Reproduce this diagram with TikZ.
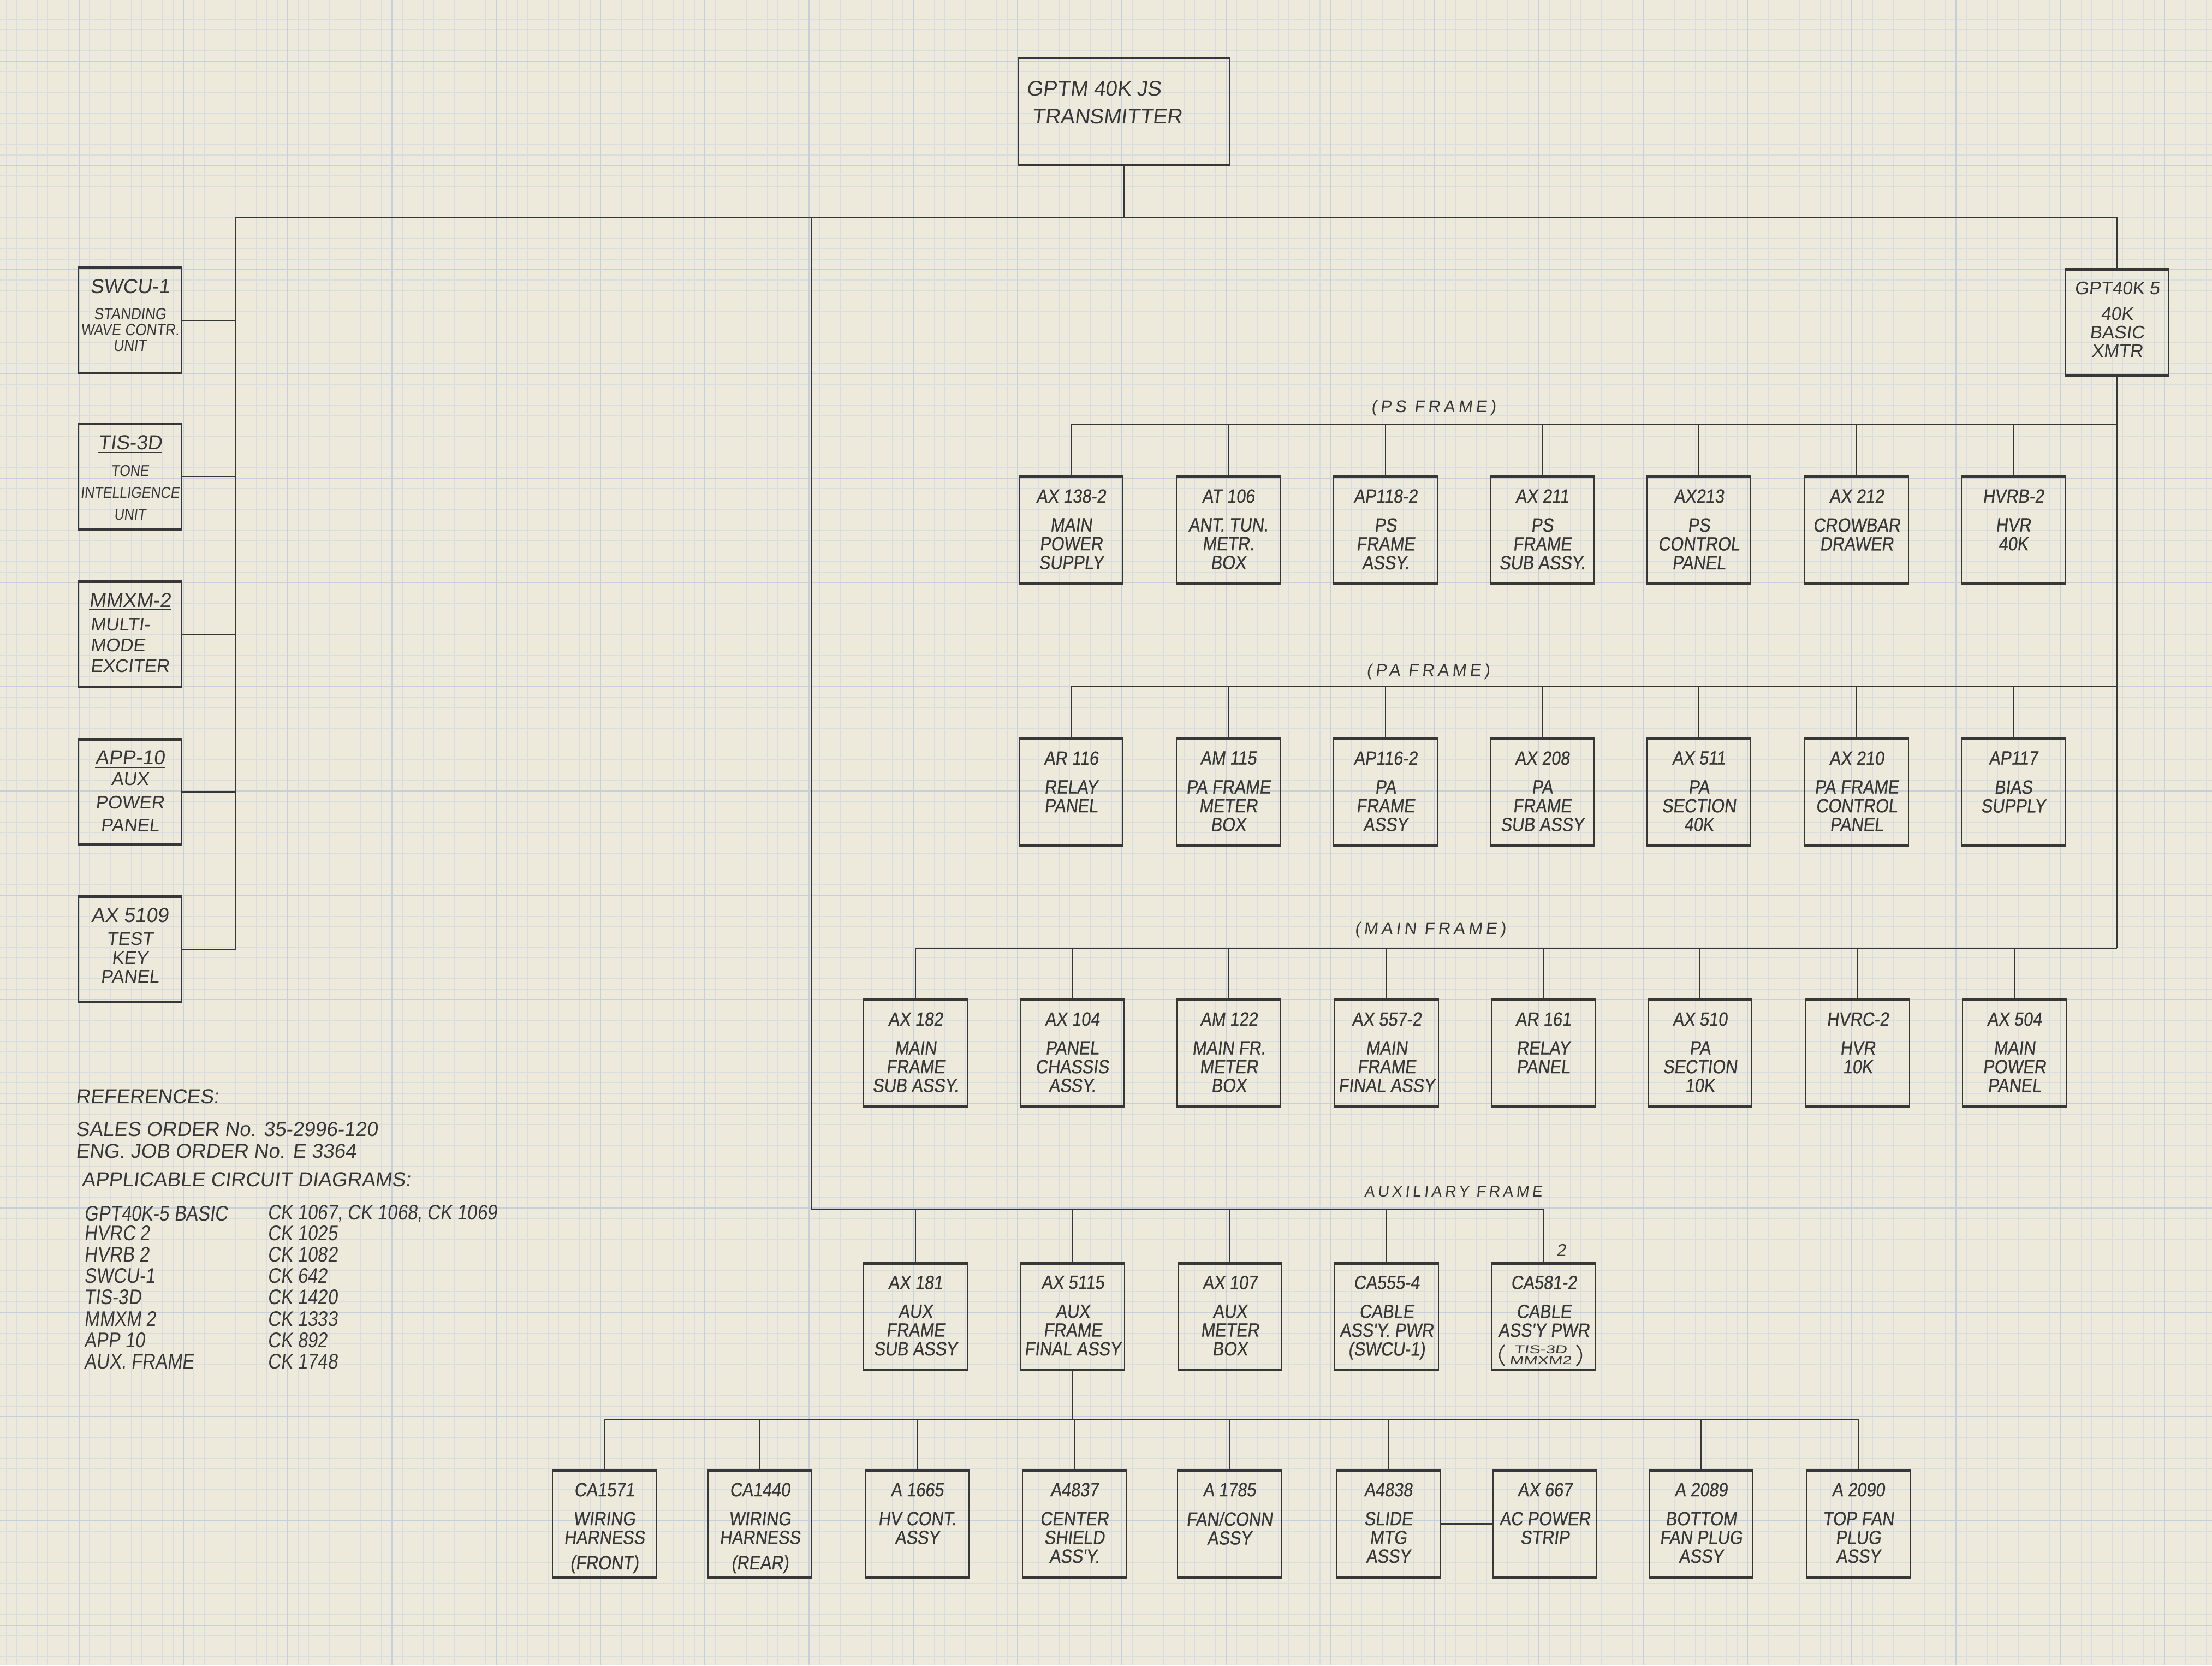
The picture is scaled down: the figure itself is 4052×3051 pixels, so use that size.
\documentclass[tikz,border=0pt]{standalone}
\usepackage{fontspec}
\usetikzlibrary{calc}
\setmainfont{Liberation Sans}[FakeSlant=0.12]
\newfontfamily\boxfont{Liberation Sans}[FakeSlant=0.12, FakeStretch=0.87, FakeBold=0.6]
\newfontfamily\narrowfont{Liberation Sans}[FakeSlant=0.12, FakeStretch=0.87]
\newfontfamily\widefont{Liberation Sans}[FakeSlant=0.12, FakeStretch=1.45]
\newfontfamily\reffont{Liberation Sans}[FakeSlant=0.12, FakeStretch=0.85]
\newfontfamily\lblfont{Liberation Sans}[FakeSlant=0.12, LetterSpace=20]
\definecolor{paper}{RGB}{238,234,219}
\definecolor{ink}{RGB}{55,55,55}
\definecolor{gridminor}{RGB}{217,221,224}
\definecolor{gridmajor}{RGB}{198,207,220}
\begin{document}
\begin{tikzpicture}[x=0.1mm, y=-0.1mm,
  conn/.style={draw=ink, line width=0.65pt},
  boxbase/.style={draw=ink, line width=0.7pt, minimum width=19mm, minimum height=19.3mm, inner sep=0pt},
  ttl/.style={anchor=north, yshift=-2.2mm, inner sep=0pt, text=ink, font={\boxfont\fontsize{10}{9.8}\selectfont}},
  dsc/.style={anchor=north, yshift=-7.5mm, inner sep=0pt, align=center, text=ink, font={\boxfont\fontsize{10}{9.8}\selectfont}},
  box/.style 2 args={boxbase, label={[ttl]north:#1}, label={[dsc]north:#2}},
  lttl/.style={anchor=north, yshift=-2.0mm, inner sep=0pt, text=ink, font={\fontsize{10.5}{12}\selectfont}},
  ldsc/.style={anchor=north, inner sep=0pt, align=center, text=ink, font={\fontsize{9.5}{11}\selectfont}},
  lbox/.style n args={3}{boxbase, minimum height=19mm, label={[lttl]north:\underline{#1}}, label={[ldsc,#3]north:#2}},
  reftxt/.style={anchor=west, inner sep=0pt, text=ink, font={\fontsize{10.5}{12}\selectfont}},
  tabtxt/.style={anchor=west, inner sep=0pt, text=ink, font={\reffont\fontsize{11}{12}\selectfont}},
  frlbl/.style={inner sep=0pt, text=ink, font={\lblfont\fontsize{8.8}{10}\selectfont}},
  paren/.style={draw=ink, line width=0.7pt}
]
% paper and graph grid
\fill[paper] (0,0) rectangle (4052,3051);
\useasboundingbox (0,0) rectangle (4052,3051);
\foreach \i in {0,...,211} \draw[gridminor, line width=0.35pt] ({11.3+19.1*\i},0) -- ++(0,3051);
\foreach \i in {0,...,159} \draw[gridminor, line width=0.35pt] (0,{16.5+19.1*\i}) -- ++(4052,0);
\foreach \i in {0,...,20} \draw[gridmajor, line width=0.65pt] ({145+191*\i},0) -- ++(0,3051);
\foreach \i in {0,...,15} \draw[gridmajor, line width=0.65pt] (0,{112+191*\i}) -- ++(4052,0);

% top box
\node[boxbase, minimum width=38.7mm] (top) at (2058.5,204.5) {};
\node[anchor=west, inner sep=0pt, align=left, text=ink, font={\fontsize{11}{14.5}\selectfont}] (topt) at (1880,187.5) {GPTM 40K JS\\\hspace{1mm}TRANSMITTER};

% basic xmtr box
\node[boxbase, minimum height=19.1mm,
  label={[ttl, font={\fontsize{9.5}{9.7}\selectfont}]north:GPT40K 5},
  label={[dsc, yshift=0.6mm, font={\fontsize{9.5}{9.7}\selectfont}]north:40K\\BASIC\\XMTR}] (gpt) at (3878,590.5) {};

% left boxes
\node[lbox={SWCU-1}{STANDING\\WAVE CONTR.\\UNIT}{font={\narrowfont\fontsize{8.5}{8.3}\selectfont}, yshift=-7.3mm}] (l1) at (238,587) {};
\node[lbox={TIS-3D}{TONE\\INTELLIGENCE\\UNIT}{font={\narrowfont\fontsize{8.2}{11.3}\selectfont}, yshift=-7.5mm}] (l2) at (238,873) {};
\node[lbox={MMXM-2}{MULTI-\\MODE\\EXCITER}{align=left, font={\fontsize{9.5}{10.8}\selectfont}, yshift=-6.6mm}] (l3) at (238,1162) {};
\node[lbox={APP-10}{AUX\\POWER\\PANEL}{font={\fontsize{9.5}{12}\selectfont}, yshift=-6.1mm}] (l4) at (238,1450.5) {};
\node[lbox={AX 5109}{TEST\\KEY\\PANEL}{font={\fontsize{9.5}{9.8}\selectfont}, yshift=-6.5mm}] (l5) at (238,1739) {};

% PS frame row
\node[box={AX 138-2}{MAIN\\POWER\\SUPPLY}] (ps1) at (1962,971.5) {};
\node[box={AT 106}{ANT. TUN.\\METR.\\BOX}] (ps2) at (2250,971.5) {};
\node[box={AP118-2}{PS\\FRAME\\ASSY.}] (ps3) at (2538,971.5) {};
\node[box={AX 211}{PS\\FRAME\\SUB ASSY.}] (ps4) at (2825,971.5) {};
\node[box={AX213}{PS\\CONTROL\\PANEL}] (ps5) at (3112,971.5) {};
\node[box={AX 212}{CROWBAR\\DRAWER}] (ps6) at (3401,971.5) {};
\node[box={HVRB-2}{HVR\\40K}] (ps7) at (3688,971.5) {};

% PA frame row
\node[box={AR 116}{RELAY\\PANEL}] (pa1) at (1962,1451.5) {};
\node[box={AM 115}{PA FRAME\\METER\\BOX}] (pa2) at (2250,1451.5) {};
\node[box={AP116-2}{PA\\FRAME\\ASSY}] (pa3) at (2538,1451.5) {};
\node[box={AX 208}{PA\\FRAME\\SUB ASSY}] (pa4) at (2825,1451.5) {};
\node[box={AX 511}{PA\\SECTION\\40K}] (pa5) at (3112,1451.5) {};
\node[box={AX 210}{PA FRAME\\CONTROL\\PANEL}] (pa6) at (3401,1451.5) {};
\node[box={AP117}{BIAS\\SUPPLY}] (pa7) at (3688,1451.5) {};

% main frame row
\node[box={AX 182}{MAIN\\FRAME\\SUB ASSY.}] (mf0) at (1677,1929.5) {};
\node[box={AX 104}{PANEL\\CHASSIS\\ASSY.}] (mf1) at (1964,1929.5) {};
\node[box={AM 122}{MAIN FR.\\METER\\BOX}] (mf2) at (2251,1929.5) {};
\node[box={AX 557-2}{MAIN\\FRAME\\FINAL ASSY}] (mf3) at (2540,1929.5) {};
\node[box={AR 161}{RELAY\\PANEL}] (mf4) at (2827,1929.5) {};
\node[box={AX 510}{PA\\SECTION\\10K}] (mf5) at (3114,1929.5) {};
\node[box={HVRC-2}{HVR\\10K}] (mf6) at (3403,1929.5) {};
\node[box={AX 504}{MAIN\\POWER\\PANEL}] (mf7) at (3690,1929.5) {};

% auxiliary frame row
\node[box={AX 181}{AUX\\FRAME\\SUB ASSY}] (ax0) at (1677,2412) {};
\node[box={AX 5115}{AUX\\FRAME\\FINAL ASSY}] (ax1) at (1965,2412) {};
\node[box={AX 107}{AUX\\METER\\BOX}] (ax2) at (2253,2412) {};
\node[box={CA555-4}{CABLE\\ASS'Y. PWR\\(SWCU-1)}] (ax3) at (2540,2412) {};
\node[box={CA581-2}{CABLE\\ASS'Y PWR}] (ax4) at (2828,2412) {};
\node[inner sep=0pt, align=center, text=ink, font={\widefont\fontsize{6}{5.6}\selectfont}] (ax4sub) at ($(ax4.center)+(-6,70)$) {TIS-3D\\MMXM2};
\draw[paren] ($(ax4.center)+(-72,52)$) .. controls ($(ax4.center)+(-84,64)$) and ($(ax4.center)+(-84,78)$) .. ($(ax4.center)+(-72,90)$);
\draw[paren] ($(ax4.center)+(60,52)$) .. controls ($(ax4.center)+(72,64)$) and ($(ax4.center)+(72,78)$) .. ($(ax4.center)+(60,90)$);

% bottom row
\node[box={CA1571}{WIRING\\HARNESS\\[1.2mm](FRONT)}] (b1) at (1107,2791.5) {};
\node[box={CA1440}{WIRING\\HARNESS\\[1.2mm](REAR)}] (b2) at (1392,2791.5) {};
\node[box={A 1665}{HV CONT.\\ASSY}] (b3) at (1680,2791.5) {};
\node[box={A4837}{CENTER\\SHIELD\\ASS'Y.}] (b4) at (1968,2791.5) {};
\node[box={A 1785}{FAN/CONN\\ASSY}] (b5) at (2252,2791.5) {};
\node[box={A4838}{SLIDE\\MTG\\ASSY}] (b6) at (2543,2791.5) {};
\node[box={AX 667}{AC POWER\\STRIP}] (b7) at (2830,2791.5) {};
\node[box={A 2089}{BOTTOM\\FAN PLUG\\ASSY}] (b8) at (3116,2791.5) {};
\node[box={A 2090}{TOP FAN\\PLUG\\ASSY}] (b9) at (3404,2791.5) {};

% heavier pencil on top and bottom edges
\foreach \n in {top,gpt,l1,l2,l3,l4,l5,ps1,ps2,ps3,ps4,ps5,ps6,ps7,pa1,pa2,pa3,pa4,pa5,pa6,pa7,mf0,mf1,mf2,mf3,mf4,mf5,mf6,mf7,ax0,ax1,ax2,ax3,ax4,b1,b2,b3,b4,b5,b6,b7,b8,b9}{
  \draw[ink, line width=1.4pt] (\n.north west) -- (\n.north east);
  \draw[ink, line width=1.4pt] (\n.south west) -- (\n.south east);
}

% bus coordinates
\coordinate (tbL) at (431,398);
\coordinate (tbM) at (1486,398);
\coordinate (psbus) at (0,778);
\coordinate (pabus) at (0,1258);
\coordinate (mfbus) at (0,1737);
\coordinate (axbus) at (1486,2215);
\coordinate (btbus) at (0,2600);

% connectors
\draw[conn] (top.south) -- (top.south |- tbL);
\draw[conn] (tbL) -- (gpt.north |- tbL) -- (gpt.north);
\draw[conn] (tbL) -- (tbL |- l5.east) -- (l5.east);
\foreach \n in {l1,l2,l3,l4} \draw[conn] (\n.east) -- (\n.east -| tbL);
\draw[conn] (gpt.south) -- (gpt.south |- mfbus);
\draw[conn] (ps1.north |- psbus) -- (gpt.south |- psbus);
\draw[conn] (pa1.north |- pabus) -- (gpt.south |- pabus);
\draw[conn] (mf0.north |- mfbus) -- (gpt.south |- mfbus);
\foreach \n in {ps1,ps2,ps3,ps4,ps5,ps6,ps7} \draw[conn] (\n.north) -- (\n.north |- psbus);
\foreach \n in {pa1,pa2,pa3,pa4,pa5,pa6,pa7} \draw[conn] (\n.north) -- (\n.north |- pabus);
\foreach \n in {mf0,mf1,mf2,mf3,mf4,mf5,mf6,mf7} \draw[conn] (\n.north) -- (\n.north |- mfbus);
\draw[conn] (tbM) -- (axbus) -- (ax4.north |- axbus);
\foreach \n in {ax0,ax1,ax2,ax3,ax4} \draw[conn] (\n.north) -- (\n.north |- axbus);
\draw[conn] (ax1.south) -- (ax1.south |- btbus);
\draw[conn] (b1.north |- btbus) -- (b9.north |- btbus);
\foreach \n in {b1,b2,b3,b4,b5,b6,b8,b9} \draw[conn] (\n.north) -- (\n.north |- btbus);
\draw[conn] (b6.east) -- (b7.west);

% frame labels
\node[frlbl] (lps) at (2626,747) {(PS FRAME)};
\node[frlbl] (lpa) at (2616,1230) {(PA FRAME)};
\node[frlbl] (lmf) at (2620,1703) {(MAIN FRAME)};
\node[frlbl, font={\lblfont\fontsize{8}{9}\selectfont}] (lax) at (2662,2183) {AUXILIARY FRAME};
\node[inner sep=0pt, text=ink, font={\fontsize{9}{10}\selectfont}] (ltwo) at (2860,2290) {2};

% references
\node[reftxt] (r1) at (138,2012) {\underline{REFERENCES:}};
\node[reftxt] (r2) at (138,2069) {SALES ORDER No. 35-2996-120};
\node[reftxt] (r3) at (138,2109) {ENG. JOB ORDER No. E 3364};
\node[reftxt] (r4) at (149,2164) {\underline{APPLICABLE CIRCUIT DIAGRAMS:}};
\foreach \y/\a/\b [count=\k] in {2223/GPT40K-5 BASIC/{CK 1067, CK 1068, CK 1069}, 2259/HVRC 2/CK 1025, 2298/HVRB 2/CK 1082, 2337/SWCU-1/CK 642, 2376/TIS-3D/CK 1420, 2416/MMXM 2/CK 1333, 2455/APP 10/CK 892, 2494/AUX. FRAME/CK 1748}{
  \node[tabtxt] (ta\k) at (154,\y) {\a};
  \node[tabtxt] (tb\k) at (490,\y) {\b};
}
\end{tikzpicture}
\end{document}
